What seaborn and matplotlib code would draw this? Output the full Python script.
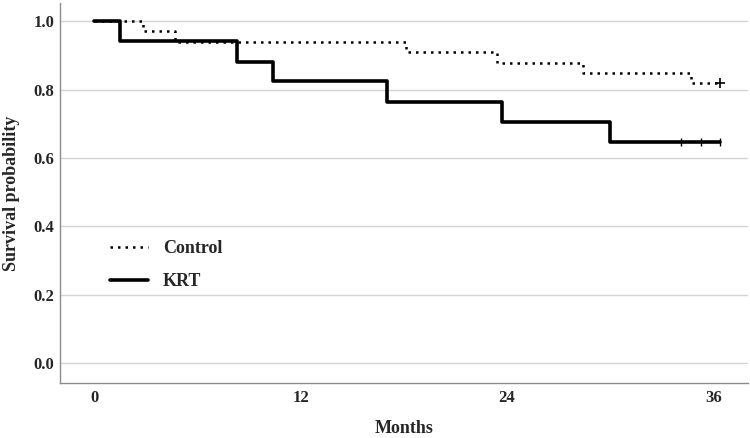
import pandas as pd
import matplotlib
import matplotlib.pyplot as plt
import seaborn as sns

# ── Kaplan-Meier step values ─────────────────────────────────────────
control_times = [0, 2.8, 4.7, 18.1, 23.4, 28.4, 34.7, 36.4]
control_surv = [1.0, 0.970, 0.939, 0.909, 0.879, 0.848, 0.818, 0.818]
control_censor_t = [36.4]
control_censor_s = [0.818]

krt_times = [0, 1.5, 8.3, 10.4, 17.0, 23.7, 30.0, 36.4]
krt_surv = [1.0, 0.941, 0.882, 0.824, 0.765, 0.706, 0.647, 0.647]
krt_censor_t = [34.1, 35.3, 36.4]
krt_censor_s = [0.647, 0.647, 0.647]

x_ticks = [0, 12, 24, 36]
y_ticks = [0.0, 0.2, 0.4, 0.6, 0.8, 1.0]

sns.set_style("white")
matplotlib.rcParams["font.family"] = ["Liberation Serif", "DejaVu Serif"]
matplotlib.rcParams["font.weight"] = "bold"

df = pd.concat([
    pd.DataFrame({"Months": control_times, "Survival": control_surv, "Group": "Control"}),
    pd.DataFrame({"Months": krt_times, "Survival": krt_surv, "Group": "KRT"}),
], ignore_index=True)

fig = plt.figure(figsize=(7.5, 4.38), dpi=100)
ax = fig.add_axes([0.08, 0.1256, 0.917, 0.8675])

ax.yaxis.grid(True, color="#d4d4d4", linewidth=1.0)
ax.set_axisbelow(True)

sns.lineplot(data=df[df.Group == "Control"], x="Months", y="Survival",
             drawstyle="steps-post", estimator=None, color="black",
             linewidth=1.8, linestyle=(0, (1, 2)), label="Control", ax=ax)
sns.lineplot(data=df[df.Group == "KRT"], x="Months", y="Survival",
             drawstyle="steps-post", estimator=None, color="black",
             linewidth=2.6, label="KRT", ax=ax)

# censor marks
ax.scatter(control_censor_t, control_censor_s, marker="+", s=45,
           color="black", linewidths=1.2, zorder=3)
ax.scatter(krt_censor_t, krt_censor_s, marker="|", s=40,
           color="black", linewidths=1.0, zorder=3)

ax.set_xlim(-2, 38)
ax.set_ylim(-0.058, 1.053)
ax.set_xticks(x_ticks)
ax.set_yticks(y_ticks)
ax.set_yticklabels([f"{v:.1f}" for v in y_ticks])
ax.tick_params(axis="both", length=0, labelsize=12)
ax.tick_params(axis="x", pad=5)
ax.tick_params(axis="y", pad=4)

ax.set_xlabel("Months", fontsize=13, fontweight="bold", labelpad=10)
ax.set_ylabel("Survival probability", fontsize=13, fontweight="bold", labelpad=10)

sns.despine(ax=ax)
for side in ["left", "bottom"]:
    ax.spines[side].set_color("#8c8c8c")
    ax.spines[side].set_linewidth(1.0)

ax.legend(loc="center left", bbox_to_anchor=(0.0727, 0.31), frameon=False,
          borderpad=0, borderaxespad=0, handlelength=2.1, handletextpad=0.83,
          labelspacing=0.88, prop={"size": 13, "weight": "bold"})

fig.savefig("out.png", dpi=100)
